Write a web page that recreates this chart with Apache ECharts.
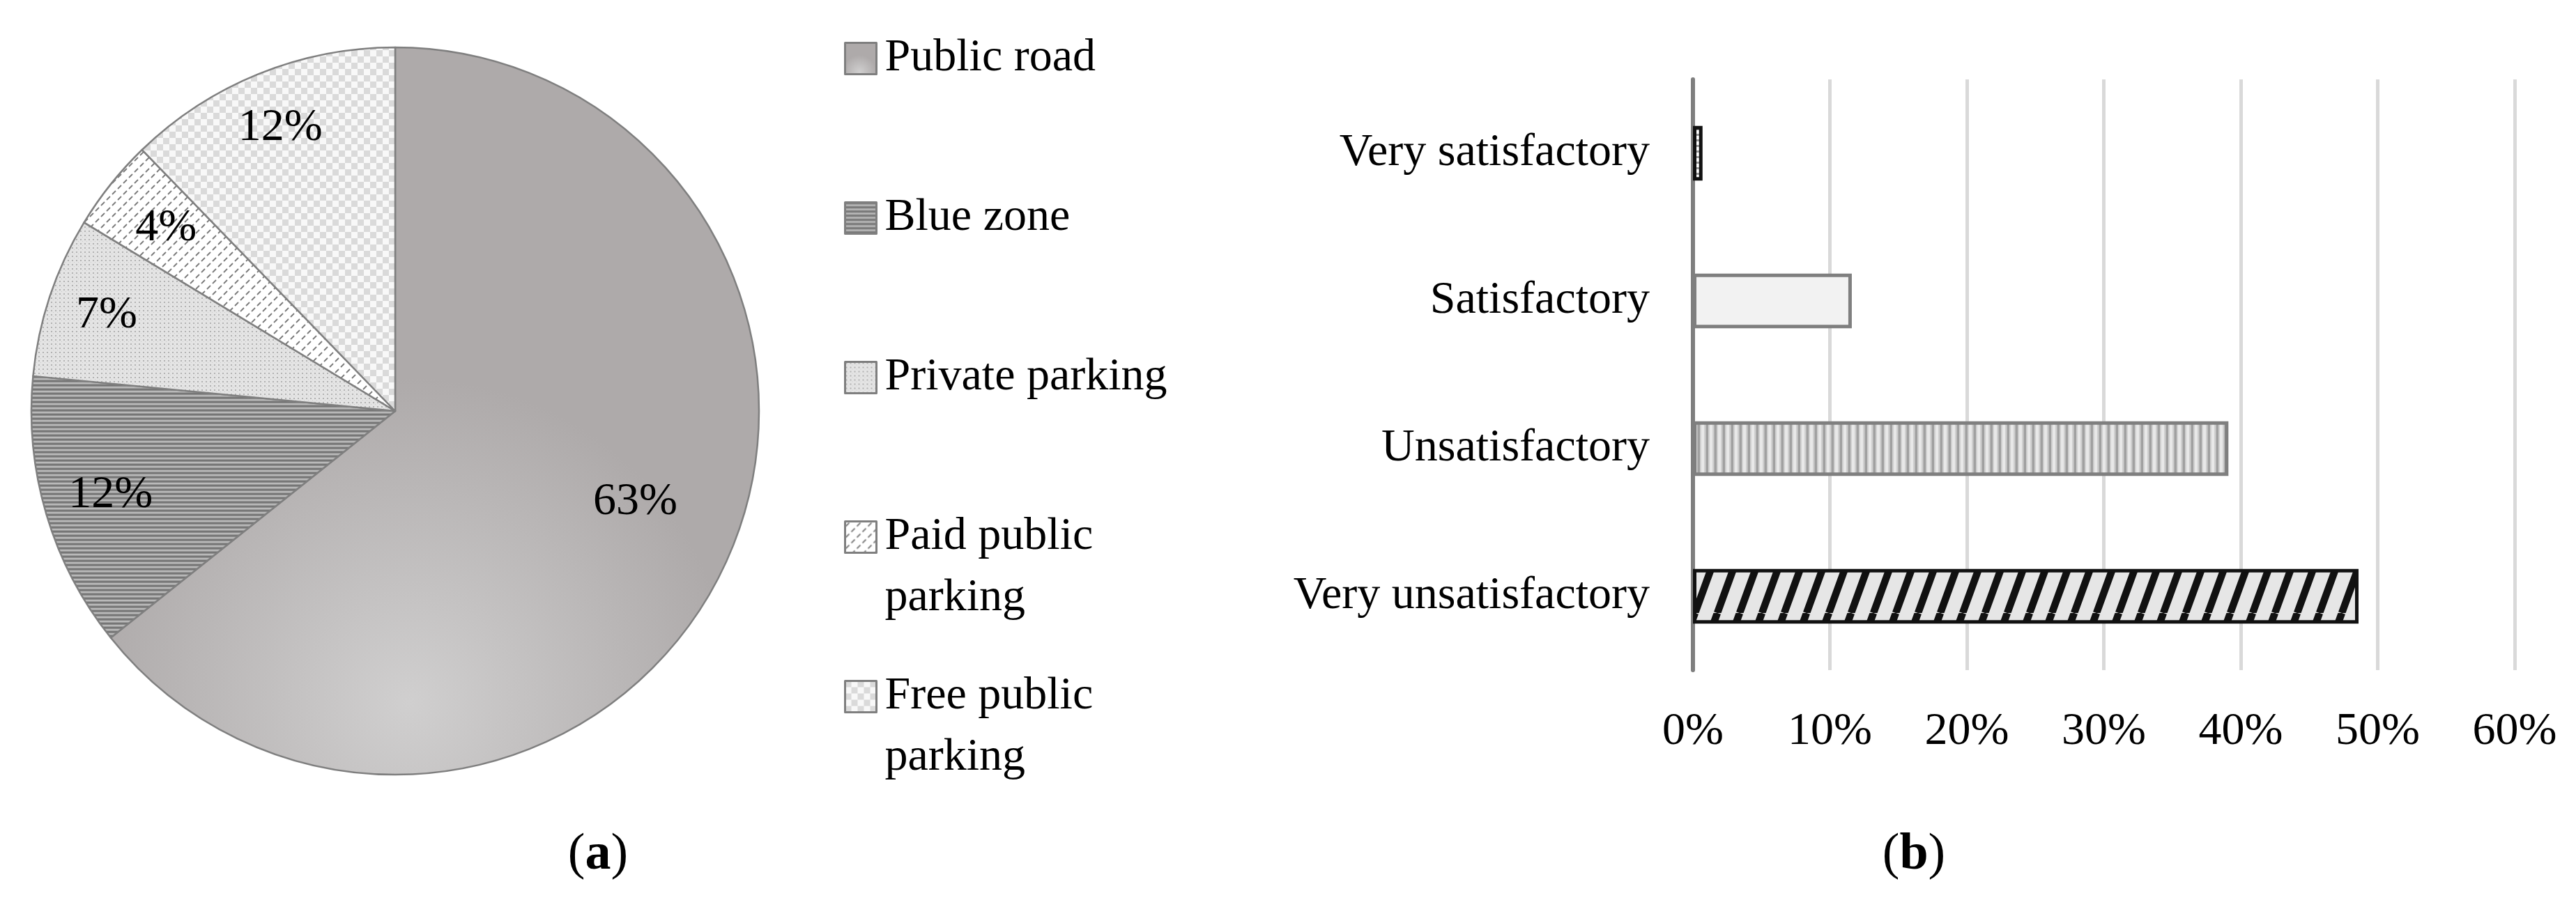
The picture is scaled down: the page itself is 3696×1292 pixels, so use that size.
<!DOCTYPE html>
<html lang="en">
<head>
<meta charset="UTF-8">
<title>Parking place and satisfaction</title>
<script src="https://cdn.jsdelivr.net/npm/echarts@6/dist/echarts.min.js"></script>
<style>html,body{margin:0;padding:0;background:#fff}</style>
</head>
<body>
<div id="main" style="width:3696px;height:1292px"></div>
<script>
// (a) where respondents park
var parkNames = ['Public road', 'Blue zone', 'Private parking', 'Paid public parking', 'Free public parking'];
var parkShares = [63, 12, 7, 4, 12];

// (b) satisfaction, bottom to top as on the axis
var satNames = ['Very unsatisfactory', 'Unsatisfactory', 'Satisfactory', 'Very satisfactory'];
var satShares = [48.6, 39.1, 11.6, 0.7];
var xTicks = [0, 10, 20, 30, 40, 50, 60];

var panelTags = ['a', 'b'];

var FONT = 'Liberation Serif';
var FS = 66;

// small canvas tiles used as pattern fills
function tile(w, h, draw) {
    var c = document.createElement('canvas');
    c.width = w; c.height = h;
    draw(c.getContext('2d'), w, h);
    return {image: c, repeat: 'repeat'};
}

var roadFill = new echarts.graphic.RadialGradient(0.46, 0.9, 0.5, [
    {offset: 0, color: '#d0cfcf'},
    {offset: 1, color: '#aeaaaa'}
]);
var blueFill = tile(1, 6, function (g) {
    var rows = ['#767676', '#767676', '#8c8c8c', '#b9b9b9', '#b9b9b9', '#9a9a9a'];
    rows.forEach(function (c, i) { g.fillStyle = c; g.fillRect(0, i, 1, 1); });
});
var privateFill = tile(6, 6, function (g) {
    g.fillStyle = '#e4e4e4'; g.fillRect(0, 0, 6, 6);
    g.fillStyle = '#b2b2b2'; g.fillRect(1, 1, 2, 2);
    g.fillStyle = '#c8c8c8'; g.fillRect(4, 4, 1, 1);
});
var paidFill = tile(16, 16, function (g) {
    g.fillStyle = '#fff'; g.fillRect(0, 0, 16, 16);
    g.strokeStyle = '#7a7a7a'; g.lineWidth = 1.8;
    g.beginPath();
    g.moveTo(1, 7); g.lineTo(6, 2);
    g.moveTo(9, 15); g.lineTo(14, 10);
    g.stroke();
});
var freeFill = tile(18, 18, function (g) {
    g.fillStyle = '#f8f8f8'; g.fillRect(0, 0, 18, 18);
    g.fillStyle = '#dadada'; g.fillRect(0, 0, 9, 9); g.fillRect(9, 9, 9, 9);
});

var hatchFill = tile(32, 88, function (g, w, h) {
    g.fillStyle = '#e6e6e6'; g.fillRect(0, 0, w, h);
    g.strokeStyle = '#111'; g.lineWidth = 10.5;
    g.beginPath();
    for (var k = -2; k <= 2; k++) { g.moveTo(k * w, h); g.lineTo(k * w + w, 0); }
    g.stroke();
});
var stripeFill = tile(12, 1, function (g) {
    var cols = ['#a0a0a0', '#a0a0a0', '#a0a0a0', '#cfcfcf', '#cfcfcf', '#e8e8e8', '#e8e8e8', '#e8e8e8', '#e8e8e8', '#cfcfcf', '#cfcfcf', '#b8b8b8'];
    cols.forEach(function (c, i) { g.fillStyle = c; g.fillRect(i, 0, 1, 1); });
});
var dotFill = tile(6, 8, function (g) {
    g.fillStyle = '#fff'; g.fillRect(0, 0, 6, 8);
    g.fillStyle = '#9a9a9a'; g.fillRect(0, 0, 6, 3);
});

var parkFills = [roadFill, blueFill, privateFill, paidFill, freeFill];
var barFills = [hatchFill, stripeFill, '#f2f2f2', dotFill];
var barEdges = ['#111', '#7f7f7f', '#7f7f7f', '#111'];

// pie geometry and where the percentages sit (fraction of radius, turn in degrees)
var pieC = [567, 590], pieR = 522;
var labelReach = [0.70, 0.81, 0.83, 0.80, 0.835];
var labelTurn = [-5, 0, 0, 0, 0];
var total = parkShares.reduce(function (a, b) { return a + b; }, 0);
var mids = [], acc = 0;
parkShares.forEach(function (v) { mids.push((acc + v / 2) / total * 2 * Math.PI); acc += v; });

// legend: one block per entry; long names wrap, marker stays on the first line
var lineH = 88, legendTop0 = 84, legendStep = 229, legendTextW = 430;
var meas = document.createElement('canvas').getContext('2d');
meas.font = FS + 'px "' + FONT + '"';
var legends = parkNames.map(function (name, i) {
    var twoLine = meas.measureText(name).width > legendTextW;
    var mid = legendTop0 + legendStep * i;
    return {
        orient: 'vertical',
        left: 1211,
        top: mid - (twoLine ? 1.5 : 0.5) * lineH,
        padding: 0,
        icon: 'rect',
        itemWidth: 45,
        itemHeight: 45,
        selectedMode: false,
        data: [name],
        formatter: twoLine ? '\n{name}' : '{name}',
        itemStyle: {borderWidth: 3},
        textStyle: {
            fontFamily: FONT, fontSize: FS, color: '#000', lineHeight: lineH,
            width: legendTextW, overflow: 'break',
            padding: [0, 0, 0, 7]
        }
    };
});

var chart = echarts.init(document.getElementById('main'));
chart.setOption({
    animation: false,
    backgroundColor: '#fff',
    legend: legends,
    grid: {left: 2429, top: 114, width: 1179, height: 848, containLabel: false},
    xAxis: {
        type: 'value',
        min: xTicks[0],
        max: xTicks[xTicks.length - 1],
        interval: xTicks[1] - xTicks[0],
        axisLine: {show: false},
        axisTick: {show: false},
        splitLine: {lineStyle: {color: '#d9d9d9', width: 5}},
        axisLabel: {formatter: '{value}%', fontFamily: FONT, fontSize: FS, color: '#000', margin: 56}
    },
    yAxis: {
        type: 'category',
        data: satNames,
        axisLine: {show: true, lineStyle: {color: '#7f7f7f', width: 6}},
        axisTick: {show: false},
        splitLine: {show: false},
        axisLabel: {fontFamily: FONT, fontSize: FS, color: '#000', margin: 62}
    },
    graphic: panelTags.map(function (t, i) {
        return {
            type: 'text',
            x: [858, 2746][i],
            y: 1228,
            style: {
                text: '({b|' + t + '})',
                font: '74px "' + FONT + '"',
                fill: '#000',
                align: 'center',
                verticalAlign: 'middle',
                rich: {b: {fontFamily: FONT, fontSize: 74, fontWeight: 'bold', fill: '#000'}}
            }
        };
    }),
    series: [
        {
            type: 'pie',
            center: pieC,
            radius: pieR,
            startAngle: 90,
            clockwise: true,
            emphasis: {disabled: true},
            itemStyle: {borderColor: '#7f7f7f', borderWidth: 2.5},
            label: {
                show: true,
                position: 'inside',
                formatter: '{c}%',
                fontFamily: FONT,
                fontSize: FS,
                color: '#000'
            },
            labelLine: {show: false},
            labelLayout: function (p) {
                var i = p.dataIndex;
                var a = mids[i], b = a + labelTurn[i] * Math.PI / 180;
                var r0 = 0.5 * pieR, r1 = labelReach[i] * pieR;
                return {
                    dx: r1 * Math.sin(b) - r0 * Math.sin(a),
                    dy: -r1 * Math.cos(b) + r0 * Math.cos(a)
                };
            },
            data: parkNames.map(function (n, i) {
                return {name: n, value: parkShares[i], itemStyle: {color: parkFills[i]}};
            })
        },
        {
            type: 'bar',
            barWidth: '37%',
            emphasis: {disabled: true},
            data: satShares.map(function (v, i) {
                return {
                    value: v,
                    itemStyle: {color: barFills[i], borderColor: barEdges[i], borderWidth: 5}
                };
            })
        }
    ]
});
</script>
</body>
</html>
